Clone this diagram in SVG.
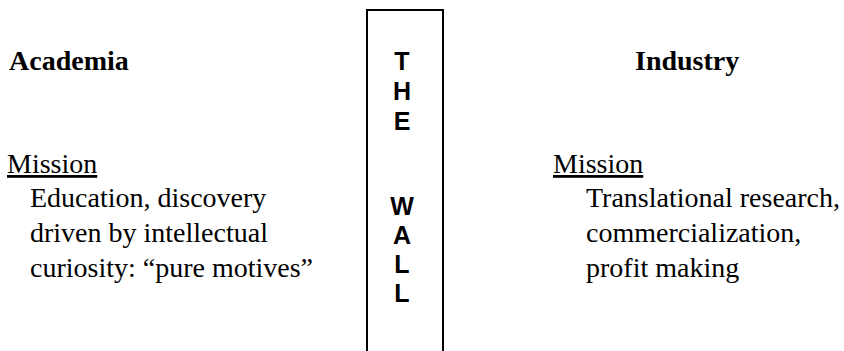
<svg xmlns="http://www.w3.org/2000/svg" width="844" height="351" viewBox="0 0 844 351">
<style>
.h{font-family:"Liberation Serif","Times New Roman",serif;font-size:28px;font-weight:bold;fill:#000}
.t{font-family:"Liberation Serif","Times New Roman",serif;font-size:28px;fill:#000}
.u{text-decoration:underline}
.w{font-family:"Liberation Sans",Arial,sans-serif;font-size:25px;font-weight:bold;fill:#000;text-anchor:middle}
.box{fill:#fff;stroke:#000;stroke-width:2}
</style>
<rect width="844" height="351" fill="#fff"/>
<g id="wall">
<path class="box" d="M367,360 V10 H443 V360"/>
<text class="w" x="402" y="70">T</text>
<text class="w" x="402" y="100">H</text>
<text class="w" x="402" y="130">E</text>
<text class="w" x="402" y="215">W</text>
<text class="w" x="402" y="244">A</text>
<text class="w" x="402" y="273">L</text>
<text class="w" x="402" y="302">L</text>
</g>
<g id="academia">
<text class="h" x="9" y="70">Academia</text>
<text class="t u" x="7" y="173">Mission</text>
<text class="t" x="30" y="207">Education, discovery</text>
<text class="t" x="30" y="242">driven by intellectual</text>
<text class="t" x="30" y="277">curiosity: “pure motives”</text>
</g>
<g id="industry">
<text class="h" x="635" y="70">Industry</text>
<text class="t u" x="553" y="173">Mission</text>
<text class="t" x="586" y="207">Translational research,</text>
<text class="t" x="586" y="242">commercialization,</text>
<text class="t" x="586" y="277">profit making</text>
</g>
<g id="connectors"></g>
</svg>
